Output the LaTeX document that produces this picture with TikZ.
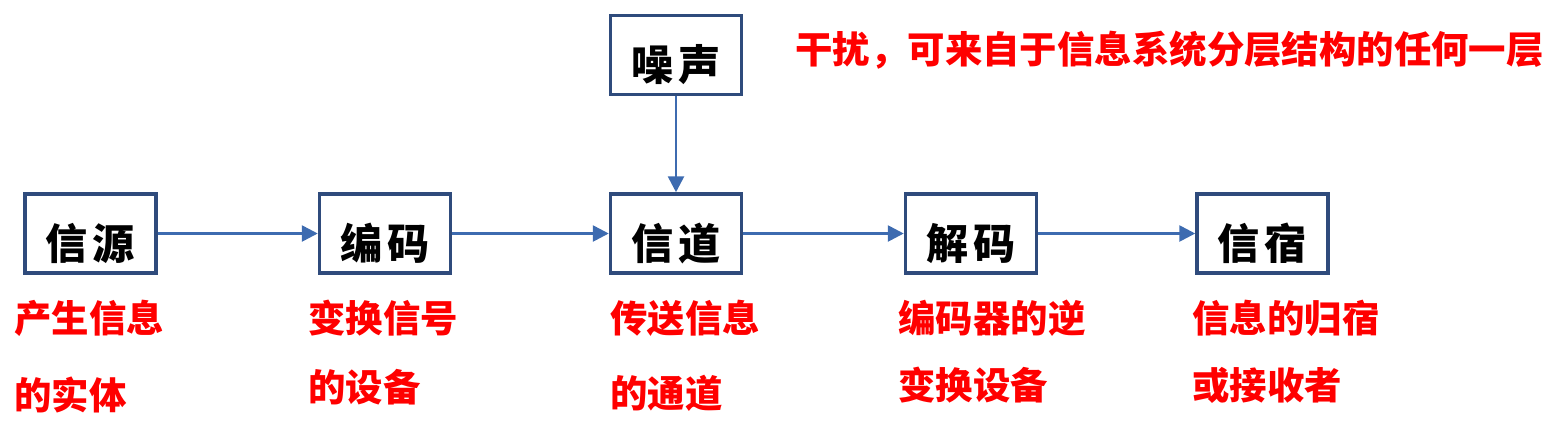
\documentclass[tikz,border=0pt]{standalone}
\usepackage{fontspec}
\newfontfamily\cjk{Noto Sans CJK SC}
\usepackage{tikz}
\usetikzlibrary{arrows.meta}
\definecolor{boxblue}{HTML}{2F4B7C}
\definecolor{arrowblue}{HTML}{3D6BB0}
\tikzset{every edge/.style={draw=arrowblue,line width=1.5pt,
		-{Triangle[length=0.32cm,width=0.32cm]}}}
\tikzstyle{block}=[rectangle,draw=boxblue,line width=2pt,fill=white,minimum width=2.62cm,minimum height=1.58cm,inner sep=0pt,font=\cjk\bfseries\fontsize{24}{24}\selectfont,text height=1.04cm,text depth=0pt]
\tikzstyle{note}=[anchor=west,inner sep=0pt,text=red,font=\cjk\bfseries\fontsize{21.3}{21.3}\selectfont]

\begin{document}
\begin{tikzpicture}[x=0.02cm,y=-0.02cm]
	\useasboundingbox (0,0) rectangle (1564,430);
	\node at (90.5,233.5) [block] (1) {信\hspace{0.1cm}源};
	\node at (385,233.5) [block] (2) {编\hspace{0.1cm}码};
	\node at (676,233.5) [block] (3) {信\hspace{0.1cm}道};
	\node at (971,233.5) [block] (4) {解\hspace{0.1cm}码};
	\node at (1262.5,233.5) [block] (5) {信\hspace{0.1cm}宿};
	\node at (676,55) [block] (0) {噪\hspace{0.1cm}声};
	\draw (1) edge (2);
	\draw (2) edge (3);
	\draw (3) edge (4);
	\draw (4) edge (5);
	\draw (0) edge (3);
	% notes under the blocks
	\node at (14,318) [note] (1a) {产生信息};
	\node at (14,395) [note] (1b) {的实体};
	\node at (308,318) [note] (2a) {变换信号};
	\node at (308,387) [note] (2b) {的设备};
	\node at (610,318) [note] (3a) {传送信息};
	\node at (610,393) [note] (3b) {的通道};
	\node at (898,318) [note] (4a) {编码器的逆};
	\node at (898,385) [note] (4b) {变换设备};
	\node at (1192,318) [note] (5a) {信息的归宿};
	\node at (1192,385) [note] (5b) {或接收者};
	\node at (795,50) [note] (0a) {干扰，可来自于信息系统分层结构的任何一层};
\end{tikzpicture}
\end{document}
